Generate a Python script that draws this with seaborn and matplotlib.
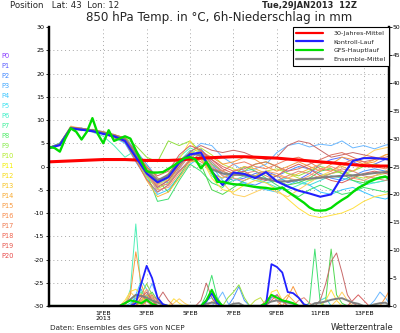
import numpy as np
import pandas as pd
import matplotlib
matplotlib.use("Agg")
import matplotlib.pyplot as plt
from matplotlib.lines import Line2D
import seaborn as sns

# GFS ensemble run, initialised Tue 29 Jan 2013 12Z; x axis is hours since init
HOURS_6 = np.arange(0, 385, 6)
HOURS_12 = np.arange(0, 385, 12)

date_ticks = [60, 108, 156, 204, 252, 300, 348]
date_labels = ["1FEB\n2013", "3FEB", "5FEB", "7FEB", "9FEB", "11FEB", "13FEB"]

# 850 hPa temperature (deg C), 12-hourly
climate_mean = [1.0, 1.1, 1.2, 1.3, 1.4, 1.5, 1.5, 1.5, 1.4, 1.3, 1.3, 1.3, 1.4,
                1.6, 1.8, 1.9, 2.0, 2.1, 2.1, 2.0, 1.9, 1.8, 1.6, 1.4, 1.2, 1.0,
                0.8, 0.6, 0.4, 0.2, 0.1, 0.1, 0.1]
control_run = [4.0, 4.6, 8.2, 7.9, 7.6, 7.0, 6.5, 5.5, 2.0, -1.5, -3.4, -2.3, 0.8,
               2.6, 3.0, -1.0, -4.0, -1.3, -1.6, -2.5, -1.2, -3.2, -4.3, -5.2,
               -5.8, -6.5, -6.0, -2.2, 1.2, 1.8, 1.8, 1.6, 1.5]
ensemble_mean = [4.0, 4.8, 8.3, 8.0, 7.8, 7.2, 6.6, 5.8, 2.5, -0.8, -3.0, -1.8, 1.2,
                 2.8, 2.4, -0.6, -1.5, -1.7, -1.9, -2.2, -2.7, -3.2, -3.2, -2.9,
                 -2.6, -2.4, -2.2, -2.0, -1.9, -1.7, -1.4, -1.2, -1.1]
# deterministic GFS run, 6-hourly
main_run = [4.2, 4.0, 3.2, 6.0, 8.2, 7.5, 5.8, 7.5, 10.4, 7.0, 5.0, 7.8, 5.5, 6.0,
            6.5, 6.0, 3.5, 1.2, -1.0, -1.3, -1.3, -1.2, -0.5, 0.2, 1.0, 1.8, 2.0,
            1.5, -0.4, 1.0, -1.0, -3.3, -3.3, -3.6, -3.8, -3.9, -4.0, -4.2, -4.4,
            -4.5, -4.6, -4.8, -4.8, -4.5, -5.4, -6.2, -7.0, -7.8, -8.8, -9.4, -9.5,
            -9.4, -8.9, -8.0, -7.2, -6.5, -5.5, -4.6, -4.0, -3.3, -2.8, -2.4, -2.2,
            -2.8, -3.0]

members = {
    "P1": [4.1, 5.0, 8.4, 8.1, 7.9, 7.0, 6.4, 5.2, 1.5, -2.0, -4.5, -3.0, 0.5, 2.2, 3.5, 0.5, -2.0, -3.0, -2.5, -1.5, -1.0, -2.0, -3.5, -2.8, -1.5, 0.5, 1.5, 2.0, 1.0, 0.0, 0.5, 1.5, 2.0],
    "P2": [3.9, 4.7, 8.2, 8.3, 7.5, 7.4, 6.8, 6.2, 3.5, 0.5, -2.5, -3.5, -1.0, 1.5, 3.8, 1.0, -1.5, -2.5, -3.5, -4.0, -3.0, -2.0, -1.0, 0.0, -0.5, -1.5, -2.5, -3.0, -2.0, -1.0, -0.5, -1.0, -1.5],
    "P3": [4.0, 4.9, 8.6, 7.8, 7.6, 7.3, 6.9, 6.0, 2.8, -1.0, -5.5, -4.0, -0.5, 3.0, 5.0, 4.5, 2.0, 0.5, -1.0, -0.5, 0.5, 3.0, 4.5, 5.0, 4.2, 4.8, 4.5, 5.5, 4.0, 4.5, 3.8, 4.6, 5.0],
    "P4": [4.2, 4.6, 8.0, 8.2, 7.7, 7.1, 6.2, 5.0, 1.0, -2.5, -6.0, -5.0, -2.0, 0.5, 2.0, 0.0, -3.0, -4.0, -3.5, -4.5, -5.0, -5.5, -4.0, -3.0, -4.0, -5.5, -6.0, -5.0, -4.5, -5.5, -6.5, -7.0, -6.0],
    "P5": [3.8, 4.5, 8.5, 8.0, 7.9, 7.5, 6.7, 5.5, 2.0, -1.5, -4.0, -2.5, 1.0, 3.5, 2.0, -1.5, -2.5, -1.5, -2.0, -3.0, -3.5, -3.0, -2.5, -3.5, -4.0, -3.0, -2.0, -2.5, -3.0, -4.0, -3.5, -3.0, -2.5],
    "P6": [4.0, 5.1, 8.3, 7.9, 7.4, 6.5, 4.5, 2.0, 3.5, 0.0, -3.0, -2.0, 2.0, 4.0, 3.0, -2.0, -4.0, -3.0, -2.0, -2.5, -3.5, -4.5, -5.0, -4.0, -3.0, -2.5, -1.5, -1.0, -2.0, -3.0, -3.5, -3.0, -2.0],
    "P7": [4.1, 4.7, 8.1, 8.0, 7.8, 7.3, 6.6, 5.9, 3.0, -1.5, -7.5, -7.0, -3.0, 0.5, -1.0, -3.5, -4.5, -2.0, 0.0, -1.0, -2.5, -4.0, -5.5, -6.5, -5.0, -4.0, -5.0, -6.0, -5.5, -4.5, -5.0, -5.5, -5.0],
    "P8": [4.0, 4.8, 8.4, 8.1, 7.6, 7.2, 6.5, 5.6, 2.2, -1.0, -3.0, -5.5, -2.0, 1.5, 0.5, -5.0, -6.0, -4.5, -3.0, -2.0, -1.5, -3.0, -4.0, -3.5, -2.5, -1.0, -0.5, -1.5, -3.0, -3.5, -2.5, -2.0, -3.0],
    "P9": [3.9, 4.9, 8.2, 7.7, 8.0, 7.4, 6.8, 6.2, 4.5, 2.0, 1.0, 5.5, 4.5, 5.5, 3.0, 0.5, -1.0, -2.0, -1.0, 0.5, 1.0, 0.0, -1.5, -2.0, -1.0, 0.0, -0.5, -1.5, -1.0, 0.0, 0.5, 0.0, -0.5],
    "P10": [4.1, 4.8, 8.5, 8.2, 7.8, 7.0, 6.3, 5.4, 1.8, -2.2, -4.8, -3.5, 0.0, 2.8, 4.0, 2.5, 0.5, -0.5, -1.5, -2.0, -1.0, -0.5, -1.5, -2.5, -3.0, -2.0, -1.5, -1.0, -2.0, -2.5, -2.0, -1.5, -1.0],
    "P11": [4.0, 4.6, 8.0, 8.0, 7.6, 7.2, 6.7, 5.7, 2.5, -0.5, -3.5, -1.5, 1.5, 5.5, 2.0, -2.5, -5.0, -5.5, -4.0, -3.0, -3.5, -5.0, -7.0, -9.0, -10.5, -11.0, -10.5, -10.0, -9.0, -7.5, -6.5, -6.0, -5.5],
    "P12": [3.9, 4.9, 8.7, 8.2, 7.8, 7.3, 6.5, 5.8, 2.0, -1.8, -4.0, -2.8, 0.5, 3.0, 2.5, -1.0, -3.5, -6.0, -6.5, -5.5, -4.5, -5.5, -6.5, -5.0, -3.5, -2.0, -1.0, 0.0, 1.0, 2.0, 3.5, 4.0, 4.5],
    "P13": [4.0, 4.7, 8.3, 8.1, 7.5, 7.1, 6.4, 5.5, 1.5, -3.0, -6.5, -5.5, -2.5, 1.0, 1.5, -1.5, -2.5, -1.0, 0.0, -0.5, -1.5, -2.0, -2.5, -1.5, -0.5, 0.5, 1.0, 0.0, -1.0, 0.5, 1.5, 2.5, 3.0],
    "P14": [4.1, 4.8, 8.4, 8.0, 7.9, 7.5, 6.9, 6.0, 3.0, 0.0, -2.5, -3.0, 0.5, 2.0, 3.2, 2.0, 0.5, 1.0, 2.0, 1.5, 0.0, -1.0, 0.0, 1.0, 0.0, -1.0, 0.5, 2.0, 1.5, 0.5, 1.0, 2.5, 3.0],
    "P15": [3.9, 4.6, 8.1, 7.9, 7.7, 7.2, 6.6, 5.7, 2.3, -1.5, -5.0, -4.5, -1.5, 1.8, 3.5, 0.0, -2.0, -2.5, -3.0, -2.0, -1.0, -1.5, -2.5, -3.0, -2.0, -0.5, 0.0, -1.0, -2.5, -3.0, -2.0, -1.0, 0.0],
    "P16": [4.0, 4.9, 8.4, 8.2, 7.7, 7.0, 6.5, 5.6, 2.6, -0.8, -3.8, -2.0, 0.8, 2.2, 1.0, -0.5, -1.0, 0.5, 1.0, 0.0, -0.5, 0.5, 1.5, 2.0, 1.0, -0.5, -1.0, 0.5, 1.5, 1.0, 0.0, -0.5, 0.5],
    "P17": [4.1, 4.7, 8.2, 8.0, 7.6, 7.4, 6.7, 5.9, 2.8, -1.2, -4.5, -3.0, 0.0, 3.2, 4.5, 3.5, 3.0, 3.5, 3.0, 2.0, 1.5, 2.0, 4.5, 5.5, 5.0, 3.5, 2.0, 2.5, 3.0, 2.5, 2.0, 1.5, 1.0],
    "P18": [3.9, 4.8, 8.3, 8.1, 7.8, 7.1, 6.2, 5.3, 1.2, -2.8, -5.5, -4.0, -1.0, 1.2, 2.8, 1.5, 0.0, -1.0, -0.5, 0.5, 1.0, 0.0, -1.0, -0.5, 0.5, 1.5, 2.5, 3.0, 2.0, 1.0, 1.5, 2.0, 2.5],
    "P19": [4.0, 4.6, 8.5, 8.2, 7.9, 7.3, 6.8, 6.1, 3.2, -0.2, -2.0, -1.0, 2.5, 4.5, 3.5, 1.5, -0.5, -1.5, -1.0, -2.5, -3.0, -2.0, -0.5, 0.5, -0.5, -2.0, -3.0, -3.5, -2.5, -1.5, -1.0, -1.5, -2.0],
    "P20": [4.0, 4.8, 8.2, 7.9, 7.5, 7.2, 6.5, 5.6, 2.1, -1.6, -4.2, -3.8, -0.5, 2.5, 3.0, 1.0, -1.0, -2.0, -1.5, -1.0, -2.0, -3.0, -2.0, -1.0, -1.5, -2.5, -1.5, -0.5, -1.0, -2.0, -2.5, -3.0, -2.5],
}

# 6h precipitation (mm): forecast hour -> amount, all other steps are dry
main_precip = {84: 0.5, 90: 1.0, 96: 0.8, 102: 0.5, 108: 1.1, 114: 0.4, 174: 1.0,
               180: 2.9, 186: 1.0, 240: 0.5, 246: 2.0, 252: 1.5, 258: 1.0, 264: 0.8,
               270: 0.5}
control_precip = {96: 0.5, 102: 4.0, 108: 7.2, 114: 5.0, 120: 1.5, 126: 0.3,
                  174: 0.8, 180: 2.3, 186: 0.5, 240: 0.3, 246: 7.5, 252: 7.0,
                  258: 6.0, 264: 2.5, 270: 2.3, 276: 1.5, 282: 0.3}
mean_precip = {84: 0.5, 90: 1.2, 96: 2.0, 102: 1.8, 108: 1.5, 114: 1.0, 120: 0.6,
               126: 0.3, 174: 0.4, 180: 0.6, 186: 0.5, 204: 0.4, 210: 0.5,
               240: 0.4, 246: 0.8, 252: 1.0, 258: 0.8, 264: 0.6, 270: 0.4,
               294: 0.5, 300: 0.6, 306: 0.8, 312: 1.1, 318: 1.3, 324: 1.4,
               330: 1.0, 336: 0.6, 342: 0.4, 360: 0.3, 366: 0.5, 372: 0.6}
member_precip = {
    "P1": {102: 1.0, 108: 2.0, 114: 1.0, 246: 1.5, 252: 2.0, 258: 1.0},
    "P2": {96: 1.5, 102: 3.0, 108: 1.0, 204: 1.5, 210: 3.5, 216: 1.0},
    "P3": {108: 2.0, 114: 4.0, 120: 1.5, 186: 1.0, 192: 2.5, 198: 0.5, 360: 1.0, 366: 2.5, 372: 1.5},
    "P4": {96: 2.0, 102: 4.5, 108: 3.0, 114: 1.0},
    "P5": {90: 0.5, 96: 1.5, 102: 2.5, 108: 1.5, 300: 1.0, 306: 1.5},
    "P6": {90: 3.0, 96: 14.7, 102: 2.0, 108: 1.0, 174: 1.0, 180: 1.5},
    "P7": {174: 2.0, 180: 5.5, 186: 1.5, 288: 0.5, 294: 10.2, 300: 0.5},
    "P8": {108: 1.5, 114: 2.5, 120: 1.0, 306: 1.0, 312: 10.2, 318: 2.0, 324: 0.5},
    "P9": {96: 1.0, 102: 2.0, 108: 4.0, 114: 2.0, 198: 1.5, 204: 2.5, 210: 3.8, 216: 1.5},
    "P10": {102: 0.8, 108: 1.5, 114: 0.8, 228: 1.0, 234: 1.5},
    "P11": {84: 1.0, 90: 2.6, 96: 3.0, 102: 2.0, 138: 1.3, 144: 0.5, 246: 2.5, 252: 2.9, 258: 1.0, 306: 1.0, 312: 2.9, 318: 1.0},
    "P12": {84: 0.5, 90: 2.5, 96: 1.5, 138: 0.5, 144: 1.3, 150: 0.5, 318: 1.0, 324: 2.5, 330: 1.0},
    "P13": {102: 1.0, 108: 2.0, 114: 1.0, 258: 1.0, 264: 2.0, 270: 1.0},
    "P14": {90: 2.0, 96: 9.7, 102: 4.0, 108: 1.0, 264: 1.5, 270: 3.5, 276: 1.5, 372: 1.5, 378: 3.2},
    "P15": {96: 0.5, 102: 1.5, 108: 3.0, 114: 1.5, 180: 0.8, 186: 1.2},
    "P16": {108: 1.0, 114: 2.0, 120: 1.0, 240: 1.0, 246: 2.0, 252: 1.0},
    "P17": {120: 1.0, 126: 2.5, 132: 1.0, 168: 1.0, 174: 4.1, 180: 1.5, 300: 1.0, 306: 4.0, 312: 8.0, 318: 9.5, 324: 6.0, 330: 2.0, 336: 0.5},
    "P18": {96: 1.0, 102: 2.0, 108: 1.0, 246: 1.0, 252: 2.0, 258: 1.0},
    "P19": {102: 1.5, 108: 2.5, 114: 1.0, 336: 1.0, 342: 2.0, 348: 1.0},
    "P20": {108: 0.8, 114: 1.5, 120: 0.8, 276: 1.0, 282: 1.5, 288: 0.5},
}

member_colors = ["#8a3cff", "#5a5cff", "#3f86ff", "#3ea6ff", "#3cc6ff", "#3ee2f0",
                 "#3ef0c8", "#3ef09a", "#52ec6a", "#86ec4a", "#b4ec2a", "#f4f000",
                 "#f8dc10", "#f8c420", "#f8aa30", "#f89a40", "#f88a48", "#f07c50",
                 "#f06450", "#e85a50", "#e84848"]
member_line_colors = {
    "P1": "#5a6cff", "P2": "#4a90ff", "P3": "#6ab8ff", "P4": "#3cc6ff", "P5": "#40dcd8",
    "P6": "#50f0b8", "P7": "#40e070", "P8": "#50d850", "P9": "#90e040", "P10": "#c0e040",
    "P11": "#ffe040", "P12": "#ffd060", "P13": "#f8b840", "P14": "#f89a40", "P15": "#f8a070",
    "P16": "#f08060", "P17": "#c86a6a", "P18": "#e07060", "P19": "#d86060", "P20": "#e08878",
}


def precip_series(events):
    values = np.zeros(len(HOURS_6))
    for hour, mm in events.items():
        values[hour // 6] = mm
    return values


sns.set_theme(style="white")
plt.rcParams["font.family"] = ["DejaVu Sans"]

fig = plt.figure(figsize=(4.0, 3.33), dpi=100)
ax = fig.add_axes([49 / 400, 1 - 306 / 333, 340 / 400, 279 / 333])
ax2 = ax.twinx()

# dotted grid
for t in range(-25, 30, 5):
    ax.axhline(t, color="#a8a8a8", lw=0.7, ls=(0, (1, 3)), zorder=0)
for h in date_ticks:
    ax.axvline(h, color="#a8a8a8", lw=0.7, ls=(0, (1, 3)), zorder=0)

# ensemble members, temperature
temp_long = pd.DataFrame(
    [(h, name, v) for name, vals in members.items() for h, v in zip(HOURS_12, vals)],
    columns=["hour", "member", "temp"])
sns.lineplot(data=temp_long, x="hour", y="temp", hue="member", palette=member_line_colors,
             estimator=None, lw=0.7, legend=False, ax=ax, zorder=2)

sns.lineplot(x=HOURS_12, y=ensemble_mean, color="#808080", lw=1.5, ax=ax, zorder=3)
sns.lineplot(x=HOURS_12, y=climate_mean, color="#ff0000", lw=2.2, ax=ax, zorder=4)
sns.lineplot(x=HOURS_12, y=control_run, color="#2020ff", lw=1.5, ax=ax, zorder=5)
sns.lineplot(x=HOURS_6, y=main_run, color="#00dd00", lw=1.7, ax=ax, zorder=6)

# ensemble members, precipitation
precip_long = pd.DataFrame(
    [(h, name, v) for name, ev in member_precip.items()
     for h, v in zip(HOURS_6, precip_series(ev))],
    columns=["hour", "member", "mm"])
sns.lineplot(data=precip_long, x="hour", y="mm", hue="member", palette=member_line_colors,
             estimator=None, lw=0.7, legend=False, ax=ax2, zorder=2)
sns.lineplot(x=HOURS_6, y=precip_series(mean_precip), color="#808080", lw=1.4, ax=ax2, zorder=3)
sns.lineplot(x=HOURS_6, y=precip_series(control_precip), color="#2020ff", lw=1.3, ax=ax2, zorder=4)
sns.lineplot(x=HOURS_6, y=precip_series(main_precip), color="#00dd00", lw=1.5, ax=ax2, zorder=5)

ax.set_xlim(0, 376)
ax.set_ylim(-30, 30)
ax2.set_ylim(0, 50)
ax.set_xlabel("")
ax.set_ylabel("")
ax2.set_ylabel("")

ax.set_xticks(date_ticks)
ax.set_xticklabels(date_labels, fontsize=4.5, linespacing=0.95)
ax.set_yticks(range(-30, 31, 5))
ax.set_yticklabels([str(v) for v in range(-30, 31, 5)], fontsize=4.6)
ax2.set_yticks(range(0, 51, 5))
ax2.set_yticklabels([str(v) for v in range(0, 51, 5)], fontsize=4.3)
ax.tick_params(axis="both", direction="out", length=2, width=0.6, pad=1.5, colors="black")
ax2.tick_params(axis="y", direction="out", length=1.8, width=0.6, pad=0.8, colors="black")

for a in (ax, ax2):
    a.spines["top"].set_visible(False)
    for side in ("left", "right", "bottom"):
        a.spines[side].set_color("black")
        a.spines[side].set_linewidth(1.6)
        a.spines[side].set_zorder(10)
    a.set_facecolor("none")

handles = [Line2D([], [], color="#ff0000", lw=1.6),
           Line2D([], [], color="#2020ff", lw=1.6),
           Line2D([], [], color="#00dd00", lw=1.6),
           Line2D([], [], color="#808080", lw=1.6)]
leg = ax2.legend(handles, ["30-Jahres-Mittel", "Kontroll-Lauf", "GFS-Hauptlauf",
                           "Ensemble-Mittel"],
                 loc="upper right", bbox_to_anchor=(1.0, 1.0), borderaxespad=0,
                 fontsize=4.6, handlelength=4.2, handletextpad=1.6, labelspacing=0.5,
                 fancybox=False, framealpha=1, edgecolor="black", borderpad=0.55)
leg.get_frame().set_linewidth(0.8)
leg.set_zorder(20)

# member key at the left margin
for i, col in enumerate(member_colors):
    fig.text(1 / 400, 1 - (56 + 10 * i) / 333, f"P{i}", color=col, fontsize=4.8,
             va="center", ha="left")

fig.text(10 / 400, 1 - 6 / 333, "Position   Lat: 43  Lon: 12", fontsize=6.2, va="center")
fig.text(357 / 400, 1 - 6 / 333, "Tue,29JAN2013  12Z", fontsize=6.0, fontweight="bold",
         va="center", ha="right")
fig.text(219 / 400, 1 - 17 / 333, "850 hPa Temp. in °C, 6h-Niederschlag in mm",
         fontsize=8.6, va="center", ha="center")
fig.text(50 / 400, 1 - 328 / 333, "Daten: Ensembles des GFS von NCEP", fontsize=5.2,
         va="center", ha="left")
fig.text(393 / 400, 1 - 327 / 333, "Wetterzentrale", fontsize=6.0, va="center", ha="right")

fig.savefig("out.png", dpi=100)
